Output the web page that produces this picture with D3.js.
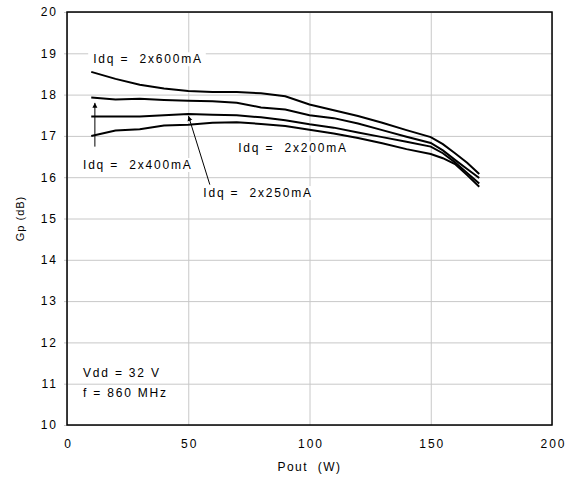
<!DOCTYPE html>
<html>
<head>
<meta charset="utf-8">
<script src="https://cdn.jsdelivr.net/npm/d3@7"></script>
<style>
	body { margin:0; background:#fff; }
	text { font-family: "Liberation Sans", Arial, sans-serif; fill:#000; white-space: pre; }
	.grid line { stroke:#c8c8c8; stroke-width:1; }
	.curve { fill:none; stroke:#000; stroke-width:2; }
</style>
</head>
<body>
<div id="chart"></div>
<script>

// Pout (W)
var pout = [10,20,30,40,50,60,70,80,90,100,110,120,130,140,150,155,160,165,170];

// Gp (dB) per Idq
var gp600 = [18.55,18.38,18.24,18.15,18.09,18.06,18.06,18.03,17.96,17.76,17.62,17.48,17.32,17.14,16.97,16.8,16.58,16.35,16.08];
var gp400 = [17.93,17.88,17.9,17.87,17.85,17.84,17.8,17.69,17.64,17.5,17.43,17.3,17.14,16.98,16.83,16.65,16.42,16.2,15.98];
var gp250 = [17.47,17.47,17.47,17.5,17.53,17.51,17.5,17.45,17.38,17.28,17.2,17.08,16.97,16.86,16.74,16.58,16.36,16.1,15.85];
var gp200 = [17.0,17.13,17.16,17.25,17.27,17.32,17.33,17.29,17.24,17.15,17.06,16.95,16.82,16.68,16.56,16.46,16.32,16.05,15.77];

var xTicks = [0,50,100,150,200];
var yTicks = [10,11,12,13,14,15,16,17,18,19,20];

var labels = ["Idq =  2x600mA", "Idq =  2x400mA", "Idq =  2x250mA", "Idq =  2x200mA"];
var condLines = ["Vdd = 32 V", "f = 860 MHz"];

var width = 576, height = 482;
var margin = {left:67, right:24, top:12, bottom:57};
var w = width - margin.left - margin.right;
var h = height - margin.top - margin.bottom;

var svg = d3.select("#chart").append("svg").attr("width",width).attr("height",height);

svg.append("defs").append("marker")
	.attr("id","head")
	.attr("viewBox","0 0 10 10")
	.attr("refX",10).attr("refY",5)
	.attr("markerWidth",5).attr("markerHeight",6)
	.attr("markerUnits","userSpaceOnUse")
	.attr("orient","auto")
	.append("path").attr("d","M0,0L10,5L0,10z").attr("fill","#000");

var g = svg.append("g").attr("transform","translate("+margin.left+","+margin.top+")");

var x = d3.scaleLinear().domain([0,200]).range([0,w]);
var y = d3.scaleLinear().domain([10,20]).range([h,0]);

// grid
g.append("g").attr("class","grid")
	.attr("transform","translate(0,"+h+")")
	.call(d3.axisBottom(x).tickValues(xTicks).tickSize(-h).tickFormat(""))
	.call(function(a){ a.select(".domain").remove(); });

g.append("g").attr("class","grid")
	.call(d3.axisLeft(y).tickValues(yTicks).tickSize(-w - 3).tickFormat(""))
	.call(function(a){ a.select(".domain").remove(); a.selectAll("line").attr("x1", -3).attr("x2", w); });

// tick labels
g.append("g")
	.attr("transform","translate(0,"+h+")")
	.call(d3.axisBottom(x).tickValues(xTicks).tickSize(0).tickPadding(14))
	.call(function(a){
		a.select(".domain").remove();
		a.selectAll("text").style("font-size","12px").style("letter-spacing","2px")
			.attr("dx","1px");
	});

g.append("g")
	.call(d3.axisLeft(y).tickValues(yTicks).tickSize(0).tickPadding(12))
	.call(function(a){
		a.select(".domain").remove();
		a.selectAll("text").style("font-size","12px").style("letter-spacing","2px")
			.attr("dx","3px");
	});

// label boxes (white, cover the grid)
var boxLayer = g.append("g");
var textLayer = g.append("g");

function addLabel(str, px, py){
	var t = textLayer.append("text")
		.attr("x", x(px)).attr("y", y(py))
		.attr("dy","0.35em")
		.style("font-size","12px").style("letter-spacing","1.8px")
		.text(str);
	var b = t.node().getBBox();
	boxLayer.append("rect")
		.attr("x", b.x - 5).attr("y", b.y)
		.attr("width", b.width + 8).attr("height", b.height)
		.attr("fill","#fff");
}

addLabel(labels[0], 10.8, 18.86);
addLabel(labels[1], 6.6, 16.3);
addLabel(labels[2], 56.2, 15.62);
addLabel(labels[3], 70.6, 16.7);
addLabel(condLines[0], 6.6, 11.26);
addLabel(condLines[1], 6.6, 10.79);

// curves
var line = d3.line()
	.x(function(d, i){ return x(pout[i]); })
	.y(function(d){ return y(d); });

[gp600, gp400, gp250, gp200].forEach(function(s){
	g.append("path").attr("class","curve").attr("d", line(s));
});

// arrows
g.append("line")
	.attr("x1", x(11.5)).attr("y1", y(16.74))
	.attr("x2", x(11.5)).attr("y2", y(17.8))
	.attr("stroke","#000").attr("stroke-width",1)
	.attr("marker-end","url(#head)");

g.append("line")
	.attr("x1", x(58.9)).attr("y1", y(15.82))
	.attr("x2", x(50.1)).attr("y2", y(17.48))
	.attr("stroke","#000").attr("stroke-width",1)
	.attr("marker-end","url(#head)");

// frame
g.append("rect")
	.attr("width", w).attr("height", h)
	.attr("fill","none").attr("stroke","#000").attr("stroke-width",1.5);

// axis titles
svg.append("text")
	.attr("x", margin.left + x(100)).attr("y", 471)
	.attr("text-anchor","middle")
	.style("font-size","12px").style("letter-spacing","1.5px")
	.text("Pout  (W)");

svg.append("text")
	.attr("transform","translate(24,"+(margin.top + y(15))+") rotate(-90)")
	.attr("text-anchor","middle")
	.style("font-size","11px").style("letter-spacing","1px")
	.text("Gp (dB)");

</script>
</body>
</html>
